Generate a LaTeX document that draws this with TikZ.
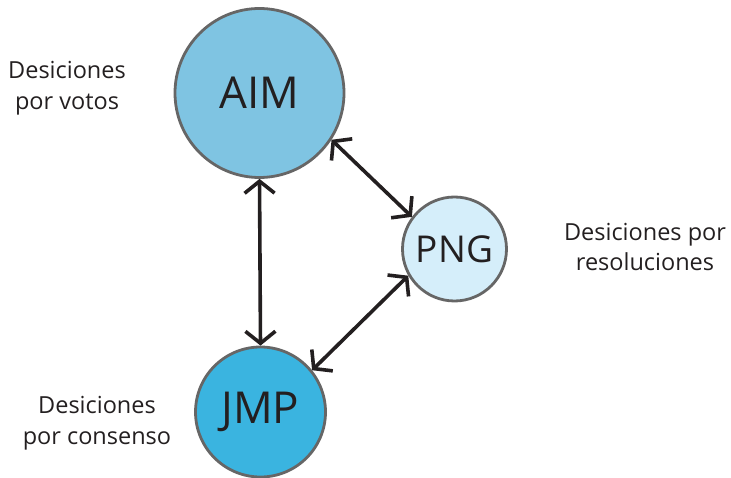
\documentclass[tikz,border=0pt]{standalone}
\usepackage{fontspec}
\setmainfont{Open Sans}
\usetikzlibrary{arrows.meta}
\definecolor{aimfill}{HTML}{7FC4E2}
\definecolor{pngfill}{HTML}{D5EEFA}
\definecolor{jmpfill}{HTML}{3AB4E0}
\definecolor{ringgray}{HTML}{666666}
\definecolor{txt}{HTML}{231F20}
\begin{document}
\begin{tikzpicture}[x=1pt,y=-1pt,
  org/.style={circle,draw=ringgray,line width=2.8pt,inner sep=0pt,text=txt},
  lbl/.style={align=center,font=\fontsize{23.5}{30.5}\selectfont,text=txt},
  link/.style={line width=3.6pt,txt,{Straight Barb[length=12pt,width=30pt]}-{Straight Barb[length=12pt,width=30pt]}}]
\useasboundingbox (0,0) rectangle (731,478);
\node[org,fill=aimfill,minimum size=169pt,font=\fontsize{44}{44}\selectfont] (aim) at (259.5,93) {AIM};
\node[org,fill=pngfill,minimum size=104pt,font=\fontsize{37}{37}\selectfont] (png) at (454.5,249) {PNG};
\node[org,fill=jmpfill,minimum size=130pt,font=\fontsize{44}{44}\selectfont] (jmp) at (260.5,412) {JMP};
\node[lbl] (l1) at (67,88) {Desiciones\\por votos};
\node[lbl] (l2) at (645,247) {Desiciones por\\resoluciones};
\node[lbl] (l3) at (97,423) {Desiciones\\por consenso};
\draw[link] (aim.south) -- (jmp.north);
\draw[link] (aim.-33) -- (png.143);
\draw[link] (png.210) -- (jmp.39.5);
\end{tikzpicture}
\end{document}
